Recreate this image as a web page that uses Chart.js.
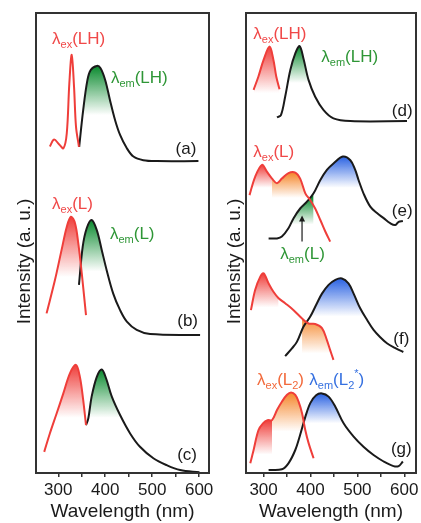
<!DOCTYPE html>
<html>
<head>
<meta charset="utf-8">
<script src="https://cdn.jsdelivr.net/npm/chart.js@4.4.0/dist/chart.umd.min.js"></script>
<style>
  html, body { margin: 0; padding: 0; background: #fff; }
  #wrap { position: relative; width: 421px; height: 523px; overflow: hidden; }
  canvas { position: absolute; top: 0; }
  #left { left: 0; width: 220px; height: 523px; }
  #right { left: 212px; width: 209px; height: 523px; }
</style>
</head>
<body>
<div id="wrap">
  <canvas id="left" width="220" height="523"></canvas>
  <canvas id="right" width="209" height="523"></canvas>
</div>
<script>
// vertical offsets of the stacked spectra (a.u.)
const offsets = { a: 67, b: 30, c: 0, d: 76, e: 50, f: 24, g: 0 }

// (a) LH
const aExWl = [282, 291, 302, 311, 318, 323.5, 328.6, 333.5, 337.7, 344]
const aExI  = [4.0, 5.5, 4.4, 3.6, 6.8, 17.7, 23.9, 17.0, 8.3, 3.9]
const aEmWl = [344.5, 353, 362, 369, 382, 390, 400, 410, 421, 431.6, 446, 460, 481, 510, 598.5]
const aEmI  = [3.9, 11.9, 18.4, 20.6, 21.5, 21.0, 18.4, 14.1, 9.7, 6.5, 3.6, 1.8, 1.0, 0.8, 0.8]

// (b) L
const bExWl = [275, 293, 307, 318, 327, 335.6, 342.6, 350, 359]
const bExI  = [4.7, 12.0, 18.5, 23.5, 25.7, 24.3, 19.9, 13.4, 4.3]
const bEmWl = [344, 352, 360.5, 371, 382, 392.5, 403, 417, 431.6, 446, 467, 495.5, 602]
const bEmI  = [10.9, 19.2, 23.2, 25.0, 22.8, 18.5, 14.1, 9.0, 5.4, 2.9, 1.1, 0.2, 0]

// (c)
const cExWl = [270, 282, 296.6, 310.7, 325, 337.7, 346, 353, 359]
const cExI  = [4.6, 8.6, 13.0, 17.3, 21.7, 23.5, 20.9, 15.9, 10.4]
const cEmWl = [359, 364, 371, 382, 392.5, 401.7, 414, 431.6, 453, 474, 502.5, 531, 559.5, 600.6]
const cEmI  = [10.4, 11.9, 16.6, 20.9, 22.5, 20.6, 16.6, 12.6, 8.6, 5.7, 3.2, 1.7, 0.65, 0.15]

// (d) LH
const dExWl = [278.7, 289, 300, 312.8, 321, 327, 334]
const dExI  = [7.3, 10.2, 13.8, 16.7, 13.8, 10.2, 7.4]
const dEmWl = [328.6, 337, 346, 357, 367.6, 376.8, 385, 396, 410, 428, 449, 485, 605.8]
const dEmI  = [1.3, 1.8, 5.8, 11.6, 15.2, 16.8, 14.1, 9.4, 5.8, 2.9, 1.1, 0.5, 0.5]

// (e) L
const eExWl = [270, 282, 296.6, 307, 318, 328.6, 339, 353, 367.6, 378, 389, 399.6, 410, 421, 431.6, 442]
const eExI  = [10.4, 14.4, 17.0, 15.5, 14.0, 13.0, 14.0, 15.2, 15.3, 14.0, 10.8, 9.3, 7.5, 5.0, 2.5, 0.3]
const eEmWl = [310.7, 328.6, 339, 353, 364, 378, 392.5, 406.6, 421, 435, 449, 469, 485, 495, 502.5, 513, 527.5, 541.8, 556, 570, 580.8, 588, 597]
const eEmI  = [1.0, 1.0, 1.4, 3.2, 5.4, 7.5, 9.0, 10.8, 13.7, 15.9, 17.3, 18.8, 18.0, 16.0, 13.7, 10.8, 7.9, 6.5, 5.4, 4.3, 3.9, 4.6, 4.8]

// (f)
const fExWl = [273, 282, 293, 300, 310.7, 321, 332, 346, 364, 382, 396, 410, 424.5, 435, 442, 449]
const fExI  = [11.4, 15.8, 18.7, 19.4, 17.2, 15.4, 14.0, 12.9, 11.4, 9.6, 8.5, 8.4, 7.5, 4.9, 2.7, 0.6]
const fEmWl = [346, 360.5, 371, 385, 399.6, 413.8, 424.5, 438.6, 453, 467, 481, 492, 506, 520.5, 534.5, 548.8, 563, 580, 598]
const fEmI  = [1.4, 3.1, 4.5, 7.8, 10.0, 12.9, 15.0, 16.9, 18.0, 18.3, 17.2, 15.0, 11.8, 9.3, 7.1, 5.5, 4.2, 3.2, 2.3]

// (g) L2 / L2*
const gExWl = [271.6, 278.7, 289, 298.7, 308.5, 318, 328.6, 339, 350, 358.5, 367.6, 374.6, 382, 389, 396, 406.6]
const gExI  = [2.1, 5.0, 9.3, 10.8, 11.5, 11.5, 13.7, 15.5, 17.0, 17.5, 17.0, 15.5, 13.0, 9.3, 6.5, 3.2]
const gEmWl = [310.7, 339, 353, 367.6, 378, 389, 399.6, 412, 424.5, 438.6, 453, 470.6, 492, 513, 534.5, 556, 577, 588, 597]
const gEmI  = [0.65, 0.8, 2.1, 5.0, 8.3, 12.2, 15.2, 16.9, 17.3, 16.6, 14.4, 10.8, 7.9, 5.7, 3.9, 2.5, 1.5, 1.5, 2.5]

const xTickMarks = [300, 350, 400, 450, 500, 550, 600]
const xTickLabels = [300, 400, 500, 600]

const FONT = "'Liberation Sans', Arial, sans-serif"
const RED = '#ef3e3a'
const GREEN = '#0a8a2e'
const BLUE = '#2a62e2'
const ORANGE = '#f5862a'
const INK = '#1a1a1a'

function pts (wl, inten, off) {
  return wl.map((w, i) => ({ x: w, y: inten[i] + off }))
}

function line (wl, inten, off, color) {
  return { data: pts(wl, inten, off), borderColor: color, borderWidth: 2, pointRadius: 0, tension: 0.35, fill: false }
}

function fade (chart, color, top, bottom) {
  const { ctx, chartArea, scales } = chart
  if (!chartArea) return 'rgba(0,0,0,0)'
  const g = ctx.createLinearGradient(0, scales.y.getPixelForValue(top), 0, scales.y.getPixelForValue(bottom))
  g.addColorStop(0, color)
  g.addColorStop(1, color + '00')
  return g
}

// gradient shading under part of a curve
function shade (wl, inten, off, lo, hi, color, top, bottom) {
  return {
    data: pts(wl, inten, off).filter(p => p.x >= lo && p.x <= hi),
    borderColor: 'rgba(0,0,0,0)', borderWidth: 0, pointRadius: 0, tension: 0.35,
    fill: { value: bottom + off },
    backgroundColor: (ctx) => fade(ctx.chart, color, top + off, bottom + off)
  }
}

const lam = (sub, rest) => [['λ', 'n'], [sub, 'sub'], [rest, 'n']]

const annotate = {
  id: 'annotate',
  afterDatasetsDraw (chart, _args, opts) {
    const { ctx, scales: { x, y } } = chart
    ctx.save()
    ctx.textBaseline = 'alphabetic'
    for (const l of opts.items || []) {
      const segs = l.parts.map(([t, m]) => ({ t, m, size: m === 'n' ? 17 : 11 }))
      let w = 0
      segs.forEach(s => { ctx.font = `${s.size}px ${FONT}`; s.w = ctx.measureText(s.t).width; w += s.w })
      let px = x.getPixelForValue(l.x)
      if (l.align === 'center') px -= w / 2
      const base = y.getPixelForValue(l.y) + 6
      ctx.fillStyle = l.color || INK
      for (const s of segs) {
        ctx.font = `${s.size}px ${FONT}`
        const dy = s.m === 'sub' ? 4 : s.m === 'sup' ? -8 : 0
        ctx.fillText(s.t, px, base + dy)
        px += s.w
      }
    }
    for (const a of opts.arrows || []) {
      const px = x.getPixelForValue(a.x)
      const y0 = y.getPixelForValue(a.y0)
      const y1 = y.getPixelForValue(a.y1)
      ctx.strokeStyle = INK
      ctx.fillStyle = INK
      ctx.lineWidth = 1.2
      ctx.beginPath(); ctx.moveTo(px, y0); ctx.lineTo(px, y1 + 4); ctx.stroke()
      ctx.beginPath(); ctx.moveTo(px, y1); ctx.lineTo(px - 3, y1 + 6); ctx.lineTo(px + 3, y1 + 6); ctx.closePath(); ctx.fill()
    }
    ctx.restore()
  },
  afterDraw (chart) {
    const { ctx, chartArea: a } = chart
    ctx.save()
    ctx.strokeStyle = '#333'
    ctx.lineWidth = 2
    ctx.strokeRect(a.left, a.top, a.right - a.left, a.bottom - a.top)
    ctx.restore()
  }
}

function panelOptions (xmin, xmax, yWidth, yTitlePad, rightPad, items, arrows) {
  return {
    responsive: false,
    animation: false,
    events: [],
    layout: { padding: { top: 13, right: rightPad, left: 0, bottom: 0 } },
    plugins: {
      legend: { display: false },
      tooltip: { enabled: false },
      filler: { drawTime: 'beforeDatasetsDraw' },
      annotate: { items, arrows }
    },
    scales: {
      x: {
        type: 'linear', min: xmin, max: xmax,
        afterBuildTicks: s => { s.ticks = xTickMarks.map(v => ({ value: v })) },
        afterFit: s => { s.height = 50; s.paddingLeft = 0; s.paddingRight = 0 },
        ticks: {
          autoSkip: false, maxRotation: 0, padding: 3, color: INK,
          font: { family: FONT, size: 17 },
          callback: v => xTickLabels.includes(v) ? String(v) : ''
        },
        grid: { display: true, drawOnChartArea: false, drawTicks: true, tickLength: 4, color: '#333', lineWidth: 1.5 },
        border: { display: false },
        title: { display: true, text: 'Wavelength (nm)', color: INK, font: { family: FONT, size: 19 }, padding: { top: 0, bottom: 0 } }
      },
      y: {
        min: 0, max: 100,
        afterFit: s => { s.width = yWidth },
        ticks: { display: false },
        grid: { display: false },
        border: { display: false },
        title: {
          display: true, text: 'Intensity (a. u.)' + '\u00a0'.repeat(7), color: INK,
          font: { family: FONT, size: 19 }, padding: { top: yTitlePad, bottom: 0 }
        }
      }
    }
  }
}

const o = offsets

new Chart(document.getElementById('left'), {
  type: 'line',
  plugins: [annotate],
  data: {
    datasets: [
      shade(aEmWl, aEmI, o.a, 0, 999, GREEN, 21.5, 10.8),
      shade(bExWl, bExI, o.b, 0, 999, RED, 25.7, 12.6),
      shade(bEmWl, bEmI, o.b, 0, 999, GREEN, 25.0, 13.8),
      shade(cExWl, cExI, o.c, 0, 999, RED, 23.5, 12),
      shade(cEmWl, cEmI, o.c, 0, 999, GREEN, 22.5, 12),
      line(aExWl, aExI, o.a, RED),
      line(aEmWl, aEmI, o.a, INK),
      line(bExWl, bExI, o.b, RED),
      line(bEmWl, bEmI, o.b, INK),
      line(cExWl, cExI, o.c, RED),
      line(cEmWl, cEmI, o.c, INK)
    ]
  },
  options: panelOptions(252.5, 621, 36, 13, 11, [
    { x: 286.6, y: 94.6, color: '#f04848', parts: lam('ex', '(LH)') },
    { x: 412, y: 86.1, color: '#2e9636', parts: lam('em', '(LH)') },
    { x: 572, y: 70.7, align: 'center', parts: [['(a)', 'n']] },
    { x: 286.6, y: 58.7, color: '#f04848', parts: lam('ex', '(L)') },
    { x: 410, y: 52.2, color: '#2e9636', parts: lam('em', '(L)') },
    { x: 575.5, y: 33.3, align: 'center', parts: [['(b)', 'n']] },
    { x: 574.4, y: 4.1, align: 'center', parts: [['(c)', 'n']] }
  ], [])
})

new Chart(document.getElementById('right'), {
  type: 'line',
  plugins: [annotate],
  data: {
    datasets: [
      shade(dExWl, dExI, o.d, 0, 999, RED, 16.7, 6.6),
      shade(dEmWl, dEmI, o.d, 0, 999, GREEN, 16.8, 8.8),
      shade(eExWl, eExI, o.e, 260, 325, RED, 17.0, 12.0),
      shade(eExWl, eExI, o.e, 318, 410, ORANGE, 15.3, 9.8),
      shade(eEmWl, eEmI, o.e, 330, 410, GREEN, 10.0, 4.0),
      shade(eEmWl, eEmI, o.e, 400, 530, BLUE, 18.8, 12.0),
      shade(fExWl, fExI, o.f, 260, 332, RED, 19.4, 12.0),
      shade(fExWl, fExI, o.f, 375, 450, ORANGE, 10.0, 2.0),
      shade(fEmWl, fEmI, o.f, 0, 999, BLUE, 18.3, 10.0),
      shade(gExWl, gExI, o.g, 260, 320, RED, 11.5, 4.0),
      shade(gExWl, gExI, o.g, 318, 410, ORANGE, 17.5, 9.0),
      shade(gEmWl, gEmI, o.g, 0, 999, BLUE, 17.3, 10.8),
      line(dExWl, dExI, o.d, RED),
      line(dEmWl, dEmI, o.d, INK),
      line(eExWl, eExI, o.e, RED),
      line(eEmWl, eEmI, o.e, INK),
      line(fExWl, fExI, o.f, RED),
      line(fEmWl, fEmI, o.f, INK),
      line(gExWl, gExI, o.g, RED),
      line(gEmWl, gEmI, o.g, INK)
    ]
  },
  options: panelOptions(262.5, 625, 34, 11, 5, [
    { x: 278, y: 95.7, color: '#f04848', parts: lam('ex', '(LH)') },
    { x: 423, y: 90.7, color: '#2e9636', parts: lam('em', '(LH)') },
    { x: 595.7, y: 78.9, align: 'center', parts: [['(d)', 'n']] },
    { x: 278, y: 70, color: '#f04848', parts: lam('ex', '(L)') },
    { x: 335.5, y: 47.8, color: '#2e9636', parts: lam('em', '(L)') },
    { x: 595.7, y: 57.2, align: 'center', parts: [['(e)', 'n']] },
    { x: 593.6, y: 29.3, align: 'center', parts: [['(f)', 'n']] },
    { x: 286, y: 20.4, color: '#f26a3c', parts: [['λ', 'n'], ['ex', 'sub'], ['(L', 'n'], ['2', 'sub'], [')', 'n']] },
    { x: 397.4, y: 20.4, color: '#3570e0', parts: [['λ', 'n'], ['em', 'sub'], ['(L', 'n'], ['2', 'sub'], ['*', 'sup'], [')', 'n']] },
    { x: 593.6, y: 5.4, align: 'center', parts: [['(g)', 'n']] }
  ], [{ x: 382, y0: 50.3, y1: 56 }])
})
</script>
</body>
</html>
